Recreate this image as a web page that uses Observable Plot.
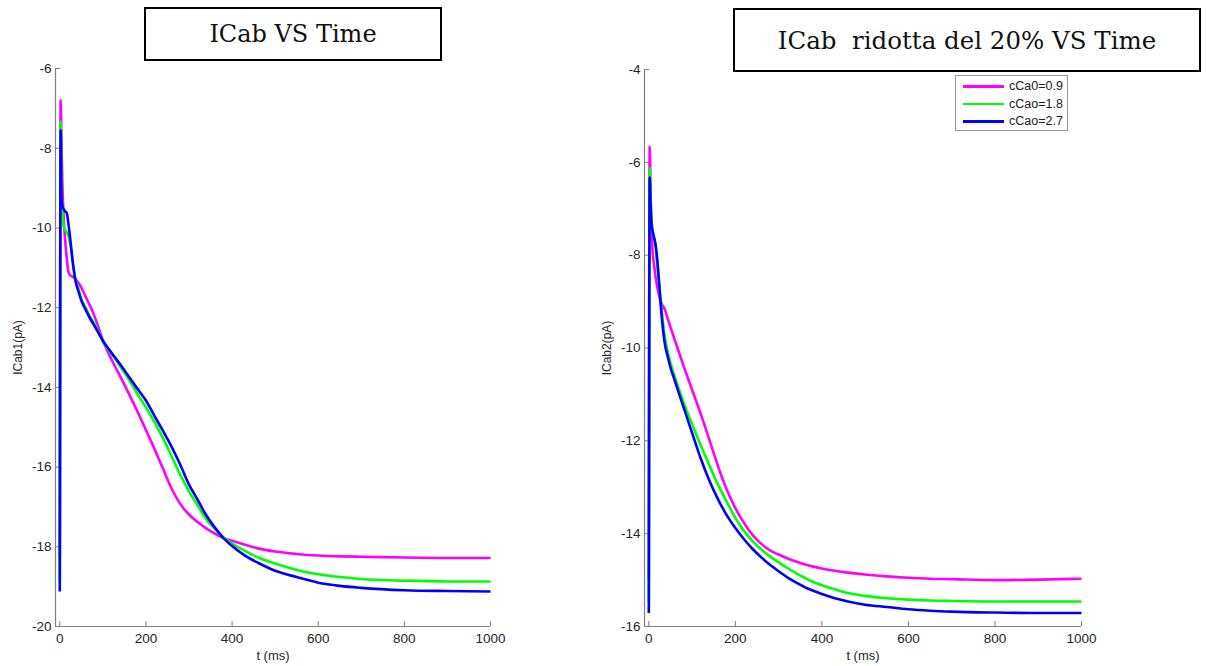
<!DOCTYPE html>
<html><head><meta charset="utf-8">
<script src="https://cdn.jsdelivr.net/npm/d3@7"></script>
<script src="https://cdn.jsdelivr.net/npm/@observablehq/plot@0.6"></script>
<style>
body{margin:0;background:#fff;}
#wrap{position:relative;width:1206px;height:666px;overflow:hidden;background:#fff;font-family:"Liberation Sans",Arial,sans-serif;}
.panel{position:absolute;top:0;}
.title{position:absolute;border:2px solid #000;box-sizing:border-box;display:flex;align-items:center;justify-content:center;font-family:"DejaVu Serif",serif;white-space:pre;background:#fff;color:#111;}
#legend{position:absolute;left:955px;top:75px;width:113px;height:56px;box-sizing:border-box;border:1px solid #999;background:#fff;}
.lrow{position:absolute;left:0;height:16px;width:110px;}
.lrow .sw{position:absolute;left:7px;top:7px;width:41px;height:2.6px;}
.lrow .tx{position:absolute;left:53px;top:0;font-size:12.5px;line-height:16px;color:#222;}
</style></head>
<body><div id="wrap"></div>
<script>
// ---- data ----
const seriesNames = ["cCa0=0.9", "cCao=1.8", "cCao=2.7"];
const seriesColors = ["#ff00ff", "#00ff00", "#0000ff"];
const titleLeft = "ICab VS Time";
const titleRight = "ICab  ridotta del 20% VS Time";
const yLabelLeft = "ICab1(pA)";
const yLabelRight = "ICab2(pA)";
const xLabel = "t (ms)";
const xTicks = [0, 200, 400, 600, 800, 1000];
const yTicksLeft = [-20, -18, -16, -14, -12, -10, -8, -6];
const yTicksRight = [-16, -14, -12, -10, -8, -6, -4];

// time grid (ms)
const time = [0, 2, 4, 6, 9, 12, 16, 20, 25, 30, 36, 44, 50, 60, 70, 80, 90, 100, 120, 140, 160, 180, 200, 220, 240, 260, 280, 300, 320, 340, 360, 380, 400, 430, 460, 500, 550, 600, 650, 700, 800, 900, 1000];

// left panel: ICab1
const leftMagenta = [-18.28, -6.79, -7.9, -8.9, -9.75, -10.25, -10.75, -11.1, -11.2, -11.22, -11.28, -11.39, -11.5, -11.73, -11.95, -12.2, -12.5, -12.82, -13.3, -13.72, -14.15, -14.6, -15.07, -15.55, -16.05, -16.55, -16.93, -17.19, -17.38, -17.54, -17.67, -17.78, -17.85, -17.95, -18.04, -18.12, -18.18, -18.22, -18.24, -18.25, -18.27, -18.28, -18.28];
const leftGreen = [-18.86, -7.33, -9.3, -9.6, -9.95, -10.05, -10.1, -10.2, -10.45, -10.85, -11.27, -11.55, -11.78, -12.0, -12.22, -12.4, -12.62, -12.85, -13.15, -13.47, -13.79, -14.16, -14.5, -14.88, -15.28, -15.74, -16.2, -16.61, -16.96, -17.31, -17.55, -17.76, -17.92, -18.1, -18.27, -18.42, -18.58, -18.69, -18.76, -18.81, -18.85, -18.87, -18.87];
const leftBlue = [-19.12, -7.55, -9.25, -9.45, -9.53, -9.58, -9.62, -9.9, -10.35, -10.85, -11.3, -11.62, -11.82, -12.05, -12.27, -12.45, -12.64, -12.83, -13.13, -13.42, -13.73, -14.03, -14.33, -14.72, -15.1, -15.5, -15.95, -16.44, -16.82, -17.21, -17.52, -17.78, -17.98, -18.22, -18.4, -18.6, -18.76, -18.9, -18.98, -19.03, -19.09, -19.11, -19.12];

// right panel: ICab2 (reduced by 20%)
const rightMagenta = [-14.97, -5.66, -6.6, -7.4, -7.95, -8.2, -8.5, -8.7, -8.92, -9.05, -9.15, -9.38, -9.55, -9.83, -10.1, -10.38, -10.64, -10.9, -11.42, -11.98, -12.55, -13.05, -13.45, -13.77, -14.03, -14.22, -14.36, -14.45, -14.53, -14.6, -14.66, -14.71, -14.75, -14.8, -14.84, -14.88, -14.92, -14.95, -14.97, -14.98, -15.0, -14.99, -14.97];
const rightGreen = [-15.46, -6.12, -6.8, -7.2, -7.45, -7.6, -7.85, -8.25, -8.75, -9.2, -9.7, -10.1, -10.32, -10.62, -10.9, -11.16, -11.41, -11.64, -12.1, -12.53, -12.95, -13.31, -13.66, -13.94, -14.16, -14.34, -14.49, -14.62, -14.74, -14.85, -14.95, -15.04, -15.11, -15.2, -15.28, -15.34, -15.39, -15.42, -15.44, -15.45, -15.46, -15.46, -15.46];
const rightBlue = [-15.71, -6.33, -6.9, -7.3, -7.5, -7.62, -7.8, -8.15, -8.75, -9.35, -9.85, -10.2, -10.42, -10.7, -10.99, -11.27, -11.55, -11.83, -12.38, -12.86, -13.26, -13.6, -13.88, -14.12, -14.33, -14.51, -14.67, -14.81, -14.94, -15.05, -15.15, -15.23, -15.3, -15.39, -15.46, -15.53, -15.58, -15.63, -15.66, -15.68, -15.7, -15.71, -15.71];

// ---- build ----
function toRows(valuesList) {
  const rows = [];
  valuesList.forEach((vals, i) => vals.forEach((v, j) => rows.push({t: time[j], v, s: seriesNames[i]})));
  return rows;
}

const axisGray = "#808080";
const textCol = "#262626";

function panel({rows, yDomain, yTicks, yLabel, width, marginLeft, marginRight, marginTop, marginBottom}) {
  return Plot.plot({
    width, height: 666, marginLeft, marginRight, marginTop, marginBottom,
    style: {fontFamily: "'Liberation Sans', Arial, sans-serif", fontSize: "13.5px", background: "transparent", overflow: "visible"},
    x: {domain: [-10, 1000]},
    y: {domain: yDomain},
    color: {domain: seriesNames, range: seriesColors},
    marks: [
      Plot.ruleX([-10], {stroke: axisGray, strokeWidth: 1.2}),
      Plot.ruleY([yDomain[0]], {stroke: axisGray, strokeWidth: 1.2}),
      Plot.axisY({ticks: yTicks, tickSize: -5, tickPadding: 9, stroke: axisGray, fill: textCol, fontSize: 13.5, tickFormat: d => String(d), label: null}),
      Plot.axisX({ticks: xTicks, tickSize: -5, tickPadding: 12, stroke: axisGray, fill: textCol, fontSize: 13.5, tickFormat: d => String(d), label: null}),
      Plot.text([yLabel], {frameAnchor: "left", textAnchor: "middle", rotate: -90, dx: -37, fontSize: 12, fill: textCol}),
      Plot.text([xLabel], {frameAnchor: "bottom", textAnchor: "middle", dy: 33, fontSize: 13, fill: textCol}),
      Plot.line(rows, {x: "t", y: "v", z: "s", stroke: "s", strokeWidth: 2.6, curve: "monotone-x", strokeLinejoin: "round", strokeLinecap: "butt"})
    ]
  });
}

const wrap = document.getElementById("wrap");

const left = panel({rows: toRows([leftMagenta, leftGreen, leftBlue]), yDomain: [-20, -6], yTicks: yTicksLeft, yLabel: yLabelLeft,
  width: 600, marginLeft: 55, marginRight: 110, marginTop: 68, marginBottom: 40});
left.classList.add("panel"); left.style.left = "0px";
wrap.appendChild(left);

const right = panel({rows: toRows([rightMagenta, rightGreen, rightBlue]), yDomain: [-16, -4], yTicks: yTicksRight, yLabel: yLabelRight,
  width: 606, marginLeft: 44, marginRight: 125, marginTop: 69, marginBottom: 40});
right.classList.add("panel"); right.style.left = "600px";
wrap.appendChild(right);

function titleBox(text, l, t, w, h, fs) {
  const d = document.createElement("div");
  d.className = "title";
  Object.assign(d.style, {left: l + "px", top: t + "px", width: w + "px", height: h + "px", fontSize: fs + "px"});
  d.textContent = text;
  wrap.appendChild(d);
}
titleBox(titleLeft, 144, 7, 298, 54, 24);
titleBox(titleRight, 733, 8, 468, 64, 24.5);

const lg = document.createElement("div");
lg.id = "legend";
seriesNames.forEach((name, i) => {
  const r = document.createElement("div");
  r.className = "lrow";
  r.style.top = (2 + i * 17.5) + "px";
  const sw = document.createElement("div"); sw.className = "sw"; sw.style.background = seriesColors[i];
  const tx = document.createElement("div"); tx.className = "tx"; tx.textContent = name;
  r.appendChild(sw); r.appendChild(tx); lg.appendChild(r);
});
wrap.appendChild(lg);
</script>
</body></html>
